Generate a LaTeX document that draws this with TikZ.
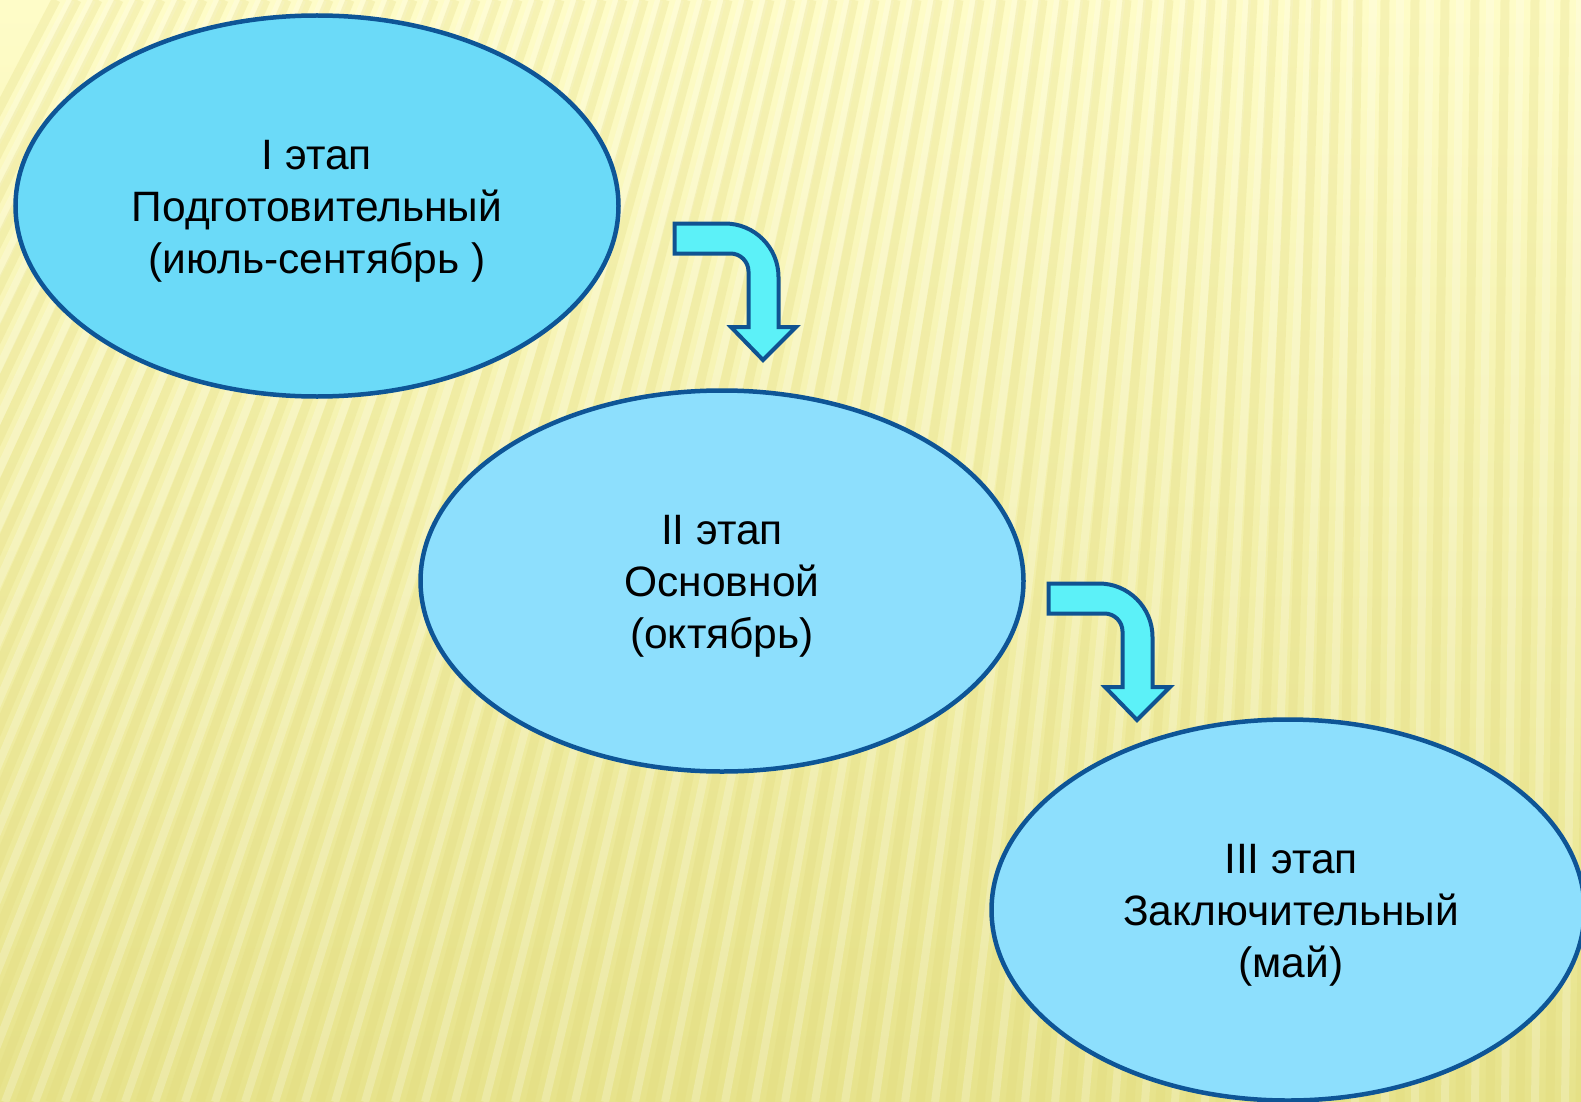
\documentclass[tikz,border=0pt]{standalone}
\usepackage{fontspec}
\setmainfont{Liberation Sans}
\usetikzlibrary{shapes.geometric}
\definecolor{bgtop}{HTML}{FEFCC8}
\definecolor{bgbot}{HTML}{E7E38C}
\definecolor{stripedark}{HTML}{E0D878}
\definecolor{ellA}{HTML}{6BDAF8}
\definecolor{ellB}{HTML}{8DDFFD}
\definecolor{ellline}{HTML}{0E5596}
\definecolor{arrfill}{HTML}{5CF1F8}
\definecolor{arrline}{HTML}{105391}
\tikzset{
  stage/.style={ellipse, draw=ellline, line width=4.5pt, inner sep=0pt,
    minimum width=603pt, minimum height=381pt},
  stagetext/.style={align=center, inner sep=0pt,
    font=\fontsize{42.5}{52}\selectfont, text=black},
  stripeD/.style={draw=stripedark, line width=9pt, opacity=0.25},
  stripeL/.style={draw=white, line width=8pt, opacity=0.22},
  pics/bentarrow/.style={code={
    \draw[fill=arrfill, draw=arrline, line width=4pt, line join=miter]
      (0,0) -- (50.5,0) .. controls (80,0) and (104,24) .. (104,53.5)
      -- (104,103.5) -- (121.5,103.5) -- (88.5,136.5) -- (56.5,103.5)
      -- (74,103.5) -- (74,48) .. controls (74,38.1) and (65.9,30) .. (56,30)
      -- (0,30) -- cycle;
  }}
}
\begin{document}
\begin{tikzpicture}[x=1pt, y=-1pt]
  % background
  \useasboundingbox (0,0) rectangle (1581,1102);
  \shade[top color=bgtop, bottom color=bgbot] (0,0) rectangle (1581,1102);
  \begin{scope}
    \clip (0,0) rectangle (1581,1102);
    \foreach \i in {-520,-490,...,1640} {
      \pgfmathsetmacro\s{max(15,420-0.3*\i)}
      \draw[stripeD] (\i,1102) -- ({\i+\s},0);
      \draw[stripeL] ({\i+15},1102) -- ({\i+15+\s},0);
    }
  \end{scope}
  % stages
  \node[stage, fill=ellA] (s1) at (317,206) {};
  \node[stage, fill=ellB] (s2) at (722,581) {};
  \node[stage, fill=ellB, minimum width=593pt] (s3) at (1288,910) {};
  \node[stagetext] (t1) at ([yshift=-5pt]s1.center) {I этап\\Подготовительный\\(июль-сентябрь )};
  \node[stagetext] (t2) at ([yshift=-5pt]s2.center) {II этап\\Основной\\(октябрь)};
  \node[stagetext] (t3) at ([xshift=3pt,yshift=-5pt]s3.center) {III этап\\Заключительный\\(май)};
  % bent arrows
  \pic at (674.5,223.5) {bentarrow};
  \pic at (1048.5,583.5) {bentarrow};
\end{tikzpicture}
\end{document}
